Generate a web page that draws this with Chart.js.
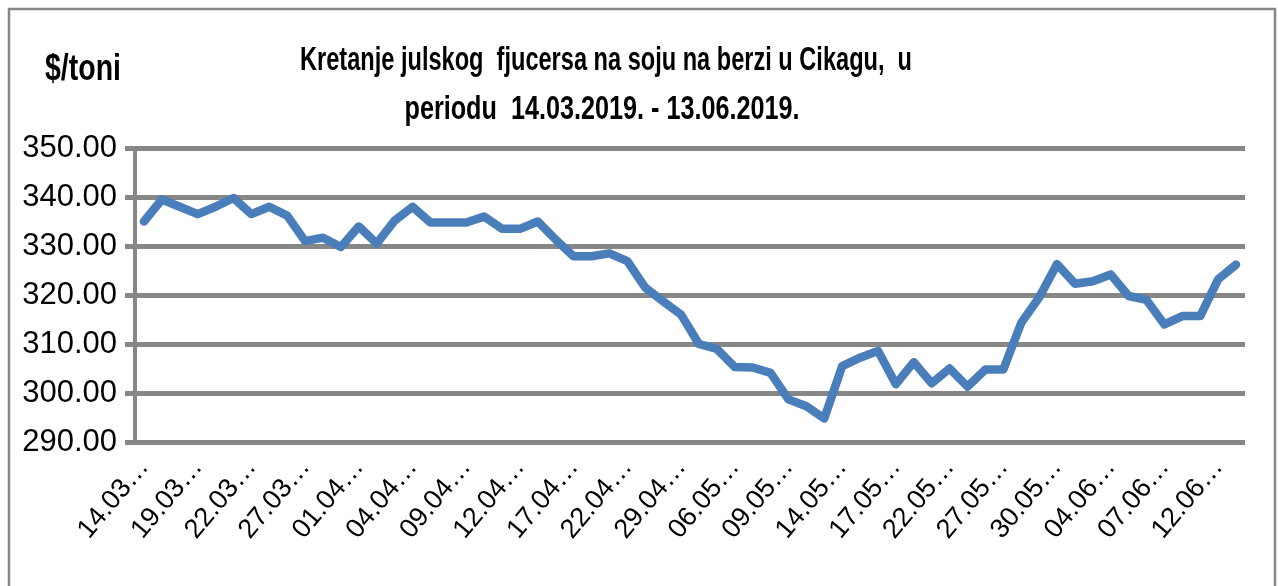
<!DOCTYPE html>
<html>
<head>
<meta charset="utf-8">
<style>
  html, body { margin: 0; padding: 0; background: #fff; }
  #wrap { position: relative; width: 1278px; height: 586px; }
</style>
<script src="https://cdn.jsdelivr.net/npm/chart.js@4/dist/chart.umd.min.js"></script>
</head>
<body>
<div id="wrap"><canvas id="soy"></canvas></div>
<script>
// July soybean futures on CBOT, 14.03.2019 - 13.06.2019 ($/t)

const titleLines = ['Kretanje julskog  fjucersa na soju na berzi u Cikagu,  u', 'periodu  14.03.2019. - 13.06.2019.'];
const unitLabel = '$/toni';

const dates = [
  '14.03.2019.', '15.03.2019.', '18.03.2019.', '19.03.2019.', '20.03.2019.', '21.03.2019.',
  '22.03.2019.', '25.03.2019.', '26.03.2019.', '27.03.2019.', '28.03.2019.', '29.03.2019.',
  '01.04.2019.', '02.04.2019.', '03.04.2019.', '04.04.2019.', '05.04.2019.', '08.04.2019.',
  '09.04.2019.', '10.04.2019.', '11.04.2019.', '12.04.2019.', '15.04.2019.', '16.04.2019.',
  '17.04.2019.', '18.04.2019.', '19.04.2019.', '22.04.2019.', '23.04.2019.', '24.04.2019.',
  '29.04.2019.', '30.04.2019.', '03.05.2019.', '06.05.2019.', '07.05.2019.', '08.05.2019.',
  '09.05.2019.', '10.05.2019.', '13.05.2019.', '14.05.2019.', '15.05.2019.', '16.05.2019.',
  '17.05.2019.', '20.05.2019.', '21.05.2019.', '22.05.2019.', '23.05.2019.', '24.05.2019.',
  '27.05.2019.', '28.05.2019.', '29.05.2019.', '30.05.2019.', '31.05.2019.', '03.06.2019.',
  '04.06.2019.', '05.06.2019.', '06.06.2019.', '07.06.2019.', '10.06.2019.', '11.06.2019.',
  '12.06.2019.', '13.06.2019.'
];

const prices = [
  335.0, 339.5, 338.0, 336.5, 338.0, 339.8,
  336.5, 338.0, 336.2, 331.0, 331.7, 329.8,
  334.0, 330.5, 335.2, 338.0, 334.8, 334.8,
  334.8, 336.0, 333.5, 333.5, 335.0, 331.3,
  327.9, 327.9, 328.5, 326.9, 321.5, 318.7,
  316.0, 310.0, 309.0, 305.3, 305.2, 304.1,
  298.7, 297.3, 294.8, 305.5, 307.2, 308.6,
  301.8, 306.3, 302.0, 305.0, 301.3, 304.8,
  304.8, 314.3, 319.5, 326.3, 322.3, 322.8,
  324.2, 319.8, 319.0, 314.0, 315.7, 315.7,
  323.2, 326.2
];

const yMin = 290;
const yMax = 350;
const yStep = 10;
const labelEvery = 3;

const GRID = '#878787';
const LINE = '#4A7EBB';

// draw text squeezed horizontally to a given width (the original uses a condensed face)
function squeezed(ctx, text, x, y, width, font, align) {
  ctx.save();
  ctx.font = font;
  ctx.fillStyle = '#000';
  ctx.textBaseline = 'alphabetic';
  ctx.textAlign = 'left';
  const w = ctx.measureText(text).width;
  const k = width / w;
  const left = align === 'center' ? x - width / 2 : x;
  ctx.translate(left, y);
  ctx.scale(k, 1);
  ctx.fillText(text, 0, 0);
  ctx.restore();
}

const frame = {
  id: 'frame',
  beforeDraw(chart) {
    const ctx = chart.ctx;
    ctx.save();
    ctx.fillStyle = '#fff';
    ctx.fillRect(0, 0, chart.width, chart.height);
    ctx.strokeStyle = GRID;
    ctx.lineWidth = 2.5;
    ctx.strokeRect(9, 9, chart.width - 12, chart.height + 20);
    ctx.restore();
  },
  afterDraw(chart) {
    const ctx = chart.ctx;
    const f = 'bold 34px "Liberation Sans", Arial, sans-serif';
    squeezed(ctx, titleLines[0], 606, 70, 612, f, 'center');
    squeezed(ctx, titleLines[1], 602, 119, 395, f, 'center');
    squeezed(ctx, unitLabel, 45, 80, 76, 'bold 36px "Liberation Sans", Arial, sans-serif', 'left');
  }
};

new Chart(document.getElementById('soy'), {
  type: 'line',
  data: {
    labels: dates,
    datasets: [{
      data: prices,
      borderColor: LINE,
      borderWidth: 8.5,
      borderJoinStyle: 'round',
      borderCapStyle: 'round',
      pointRadius: 0,
      tension: 0,
      fill: false
    }]
  },
  options: {
    responsive: true,
    maintainAspectRatio: false,
    animation: false,
    layout: { padding: { top: 148, right: 33, left: 0, bottom: 0 } },
    plugins: {
      legend: { display: false },
      title: { display: false },
      tooltip: { enabled: false }
    },
    scales: {
      x: {
        offset: true,
        grid: { display: false },
        border: { display: false },
        afterFit: (s) => { s.height = 144; },
        ticks: {
          autoSkip: false,
          minRotation: 50,
          maxRotation: 50,
          padding: 2,
          color: '#000',
          font: { family: '"Liberation Sans", Arial, sans-serif', size: 27 },
          callback: (v, i) => (i % labelEvery === 0 ? dates[i].slice(0, 5) + '…' : '')
        }
      },
      y: {
        min: yMin,
        max: yMax,
        afterFit: (s) => { s.width = 135; },
        grid: { color: GRID, lineWidth: 5, tickLength: 10, drawTicks: true },
        border: { display: true, color: GRID, width: 4 },
        ticks: {
          stepSize: yStep,
          padding: 8,
          color: '#000',
          font: { family: '"Liberation Sans", Arial, sans-serif', size: 31 },
          callback: (v) => v.toFixed(2)
        }
      }
    }
  },
  plugins: [frame]
});
</script>
</body>
</html>
